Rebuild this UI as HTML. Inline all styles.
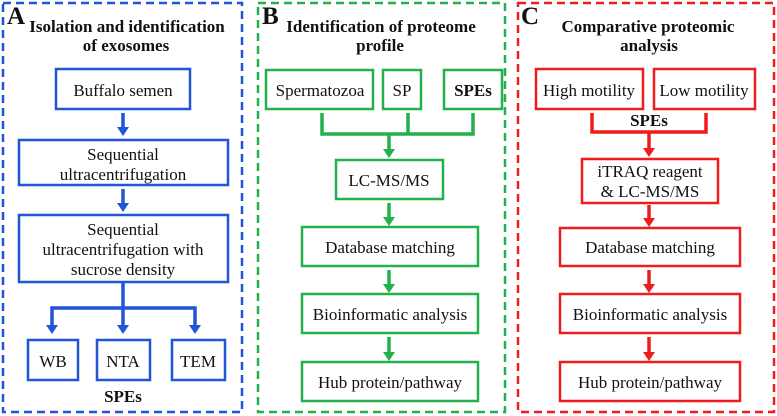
<!DOCTYPE html>
<html><head><meta charset="utf-8"><style>
html,body{margin:0;padding:0;background:#fff;}
svg{display:block;}
text{font-family:"Liberation Serif",serif;font-size:17px;fill:#111;text-anchor:middle;}
.t{font-weight:bold;font-size:17px;}
.L{font-weight:bold;font-size:25px;text-anchor:start;}
</style></head><body>
<svg width="777" height="416" viewBox="0 0 777 416" xmlns="http://www.w3.org/2000/svg">
<defs>
<marker id="ab" markerWidth="4" markerHeight="4" refX="2" refY="2" orient="auto" markerUnits="strokeWidth"><path d="M0,0 L4,2 L0,4 z" fill="#1f55d6"/></marker>
</defs>
<!-- Panel A -->
<g stroke="#1f55d6" fill="none">
<rect x="3" y="3" width="239" height="409" stroke-width="2.5" stroke-dasharray="8,5"/>
<g stroke-width="2.5">
<rect x="56" y="69" width="134" height="40"/>
<rect x="19" y="140" width="209" height="45"/>
<rect x="19" y="215" width="209" height="67"/>
<rect x="28" y="340" width="50" height="40"/>
<rect x="97" y="340" width="53" height="40"/>
<rect x="172" y="340" width="53" height="40"/>
</g>
<g stroke-width="3.5">
<line x1="123" y1="113" x2="123" y2="128"/>
<line x1="123" y1="189" x2="123" y2="204"/>
<line x1="123" y1="282" x2="123" y2="325"/>
<polyline points="52,326 52,308 195,308 195,326"/>
</g>
</g>
<g fill="#1f55d6">
<path d="M117,127 L129,127 L123,136 z"/>
<path d="M117,203 L129,203 L123,212 z"/>
<path d="M46,325 L58,325 L52,334 z"/>
<path d="M117,325 L129,325 L123,334 z"/>
<path d="M189,325 L201,325 L195,334 z"/>
</g>
<text class="L" x="7" y="24">A</text>
<text class="t" x="127" y="32">Isolation and identification</text>
<text class="t" x="126" y="51">of exosomes</text>
<text x="123" y="96">Buffalo semen</text>
<text x="123" y="160">Sequential</text>
<text x="123" y="180">ultracentrifugation</text>
<text x="123" y="235">Sequential</text>
<text x="123" y="255">ultracentrifugation with</text>
<text x="123" y="275">sucrose density</text>
<text x="53" y="367">WB</text>
<text x="123" y="367">NTA</text>
<text x="198" y="367">TEM</text>
<text class="t" x="123" y="402">SPEs</text>

<!-- Panel B -->
<g stroke="#22b14c" fill="none">
<rect x="258" y="3" width="247" height="409" stroke-width="2.5" stroke-dasharray="8,5"/>
<g stroke-width="2.5">
<rect x="266" y="70" width="107" height="39"/>
<rect x="383" y="70" width="38" height="39"/>
<rect x="444" y="70" width="58" height="39"/>
<rect x="336" y="160" width="107" height="39"/>
<rect x="302" y="227" width="176" height="39"/>
<rect x="302" y="294" width="176" height="39"/>
<rect x="302" y="362" width="176" height="39"/>
</g>
<g stroke-width="3.5">
<polyline points="322,113 322,134 473,134 473,113"/>
<line x1="408" y1="113" x2="408" y2="134"/>
<line x1="389" y1="134" x2="389" y2="150"/>
<line x1="389" y1="203" x2="389" y2="218"/>
<line x1="389" y1="270" x2="389" y2="285"/>
<line x1="389" y1="337" x2="389" y2="353"/>
</g>
</g>
<g fill="#22b14c">
<path d="M383,149 L395,149 L389,158 z"/>
<path d="M383,217 L395,217 L389,226 z"/>
<path d="M383,284 L395,284 L389,293 z"/>
<path d="M383,352 L395,352 L389,361 z"/>
</g>
<text class="L" x="262" y="24">B</text>
<text class="t" x="381" y="32">Identification of proteome</text>
<text class="t" x="380" y="51">profile</text>
<text x="320" y="96">Spermatozoa</text>
<text x="402" y="96">SP</text>
<text x="473" y="96" style="font-weight:bold">SPEs</text>
<text x="389" y="186">LC-MS/MS</text>
<text x="390" y="253">Database matching</text>
<text x="390" y="320">Bioinformatic analysis</text>
<text x="390" y="388">Hub protein/pathway</text>

<!-- Panel C -->
<g stroke="#ee1c1c" fill="none">
<rect x="518" y="3" width="256" height="409" stroke-width="2.5" stroke-dasharray="8,5"/>
<g stroke-width="2.5">
<rect x="536" y="69" width="107" height="40"/>
<rect x="654" y="69" width="101" height="40"/>
<rect x="582" y="159" width="136" height="44"/>
<rect x="560" y="228" width="180" height="38"/>
<rect x="560" y="294" width="180" height="39"/>
<rect x="560" y="362" width="180" height="39"/>
</g>
<g stroke-width="3.5">
<polyline points="592,113 592,132 706,132 706,113"/>
<line x1="649" y1="132" x2="649" y2="149"/>
<line x1="649" y1="205" x2="649" y2="219"/>
<line x1="649" y1="270" x2="649" y2="285"/>
<line x1="649" y1="337" x2="649" y2="353"/>
</g>
</g>
<g fill="#ee1c1c">
<path d="M643,148 L655,148 L649,157 z"/>
<path d="M643,218 L655,218 L649,227 z"/>
<path d="M643,284 L655,284 L649,293 z"/>
<path d="M643,352 L655,352 L649,361 z"/>
</g>
<text class="L" x="521" y="24">C</text>
<text class="t" x="648" y="32">Comparative proteomic</text>
<text class="t" x="649" y="51">analysis</text>
<text x="589" y="96">High motility</text>
<text x="704" y="96">Low motility</text>
<text class="t" x="649" y="126">SPEs</text>
<text x="650" y="177">iTRAQ  reagent</text>
<text x="650" y="197">&amp; LC-MS/MS</text>
<text x="650" y="253">Database matching</text>
<text x="650" y="320">Bioinformatic analysis</text>
<text x="650" y="388">Hub protein/pathway</text>
</svg>
</body></html>
